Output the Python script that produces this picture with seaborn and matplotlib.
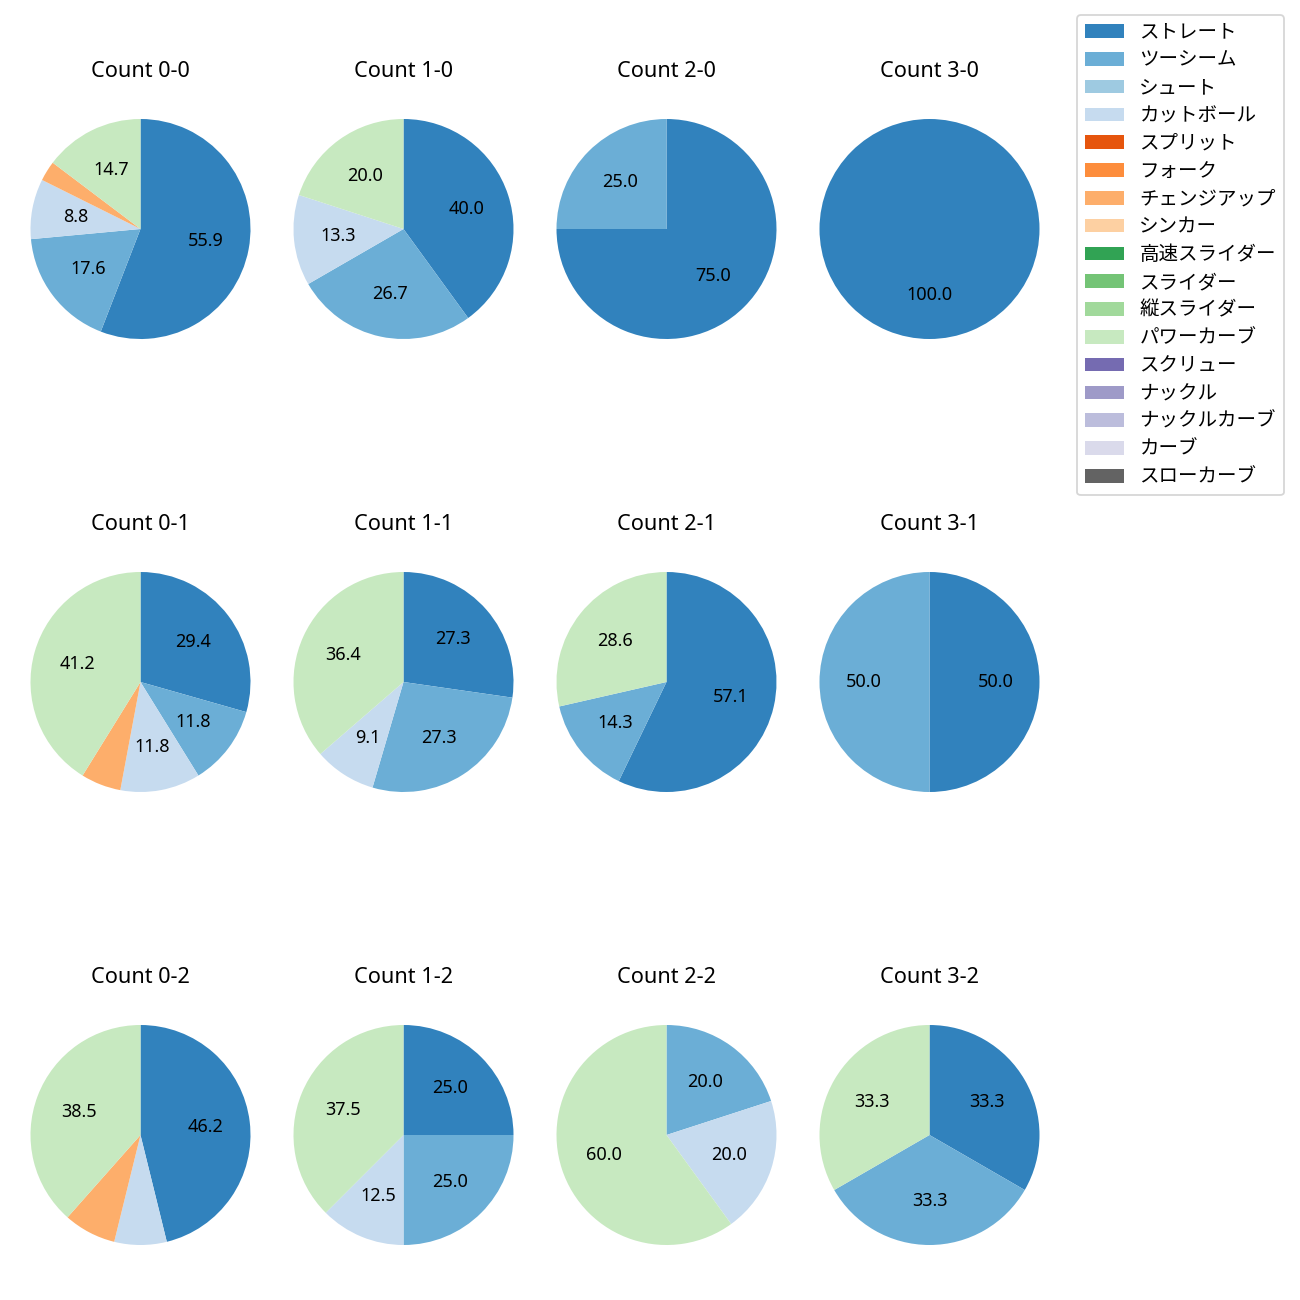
import matplotlib
matplotlib.use('Agg')
import matplotlib.pyplot as plt
import seaborn as sns
from matplotlib.patches import Patch

sns.set_style('white')
plt.rcParams['font.family'] = ['Noto Sans', 'Noto Sans CJK JP', 'DejaVu Sans']
plt.rcParams['text.color'] = 'black'

pitch_types = ['ストレート', 'ツーシーム', 'シュート', 'カットボール', 'スプリット', 'フォーク',
               'チェンジアップ', 'シンカー', '高速スライダー', 'スライダー', '縦スライダー',
               'パワーカーブ', 'スクリュー', 'ナックル', 'ナックルカーブ', 'カーブ', 'スローカーブ']

count_labels = ['0-0', '1-0', '2-0', '3-0',
                '0-1', '1-1', '2-1', '3-1',
                '0-2', '1-2', '2-2', '3-2']

# pitch counts per ball-strike count, in pitch_types order
c_0_0 = [19, 6, 0, 3, 0, 0, 1, 0, 0, 0, 0, 5, 0, 0, 0, 0, 0]
c_1_0 = [6, 4, 0, 2, 0, 0, 0, 0, 0, 0, 0, 3, 0, 0, 0, 0, 0]
c_2_0 = [3, 1, 0, 0, 0, 0, 0, 0, 0, 0, 0, 0, 0, 0, 0, 0, 0]
c_3_0 = [1, 0, 0, 0, 0, 0, 0, 0, 0, 0, 0, 0, 0, 0, 0, 0, 0]
c_0_1 = [5, 2, 0, 2, 0, 0, 1, 0, 0, 0, 0, 7, 0, 0, 0, 0, 0]
c_1_1 = [3, 3, 0, 1, 0, 0, 0, 0, 0, 0, 0, 4, 0, 0, 0, 0, 0]
c_2_1 = [4, 1, 0, 0, 0, 0, 0, 0, 0, 0, 0, 2, 0, 0, 0, 0, 0]
c_3_1 = [1, 1, 0, 0, 0, 0, 0, 0, 0, 0, 0, 0, 0, 0, 0, 0, 0]
c_0_2 = [6, 0, 0, 1, 0, 0, 1, 0, 0, 0, 0, 5, 0, 0, 0, 0, 0]
c_1_2 = [2, 2, 0, 1, 0, 0, 0, 0, 0, 0, 0, 3, 0, 0, 0, 0, 0]
c_2_2 = [0, 1, 0, 1, 0, 0, 0, 0, 0, 0, 0, 3, 0, 0, 0, 0, 0]
c_3_2 = [1, 1, 0, 0, 0, 0, 0, 0, 0, 0, 0, 1, 0, 0, 0, 0, 0]

all_counts = [c_0_0, c_1_0, c_2_0, c_3_0,
              c_0_1, c_1_1, c_2_1, c_3_1,
              c_0_2, c_1_2, c_2_2, c_3_2]

colors = sns.color_palette('tab20c', 20)[:17]

W = H = 1300
fig = plt.figure(figsize=(10, 10), dpi=130)

radius_px = 110
size_px = radius_px * 2.5
cx0, cy0 = 140.5, 229
dx, dy = 263, 453


def fmt(p):
    return f'{p:.1f}' if p >= 8 else ''


for i, (lab, vals) in enumerate(zip(count_labels, all_counts)):
    r, c = divmod(i, 4)
    cx = cx0 + c * dx
    cy = cy0 + r * dy
    ax = fig.add_axes([(cx - size_px / 2) / W, (H - cy - size_px / 2) / H, size_px / W, size_px / H])
    v = [x for x in vals if x > 0]
    col = [colors[k] for k, x in enumerate(vals) if x > 0]
    ax.pie(v, colors=col, startangle=90, counterclock=False, autopct=fmt,
           wedgeprops={'linewidth': 0}, textprops={'fontsize': 10, 'color': 'black'})
    ax.set_title(f'Count {lab}', fontsize=12, color='black', pad=8)

handles = [Patch(facecolor=colors[k], edgecolor='none', label=pitch_types[k]) for k in range(17)]
fig.legend(handles=handles, loc='upper left', bbox_to_anchor=(1077 / W, 1 - 15 / H),
           borderaxespad=0, fontsize=10.8, labelspacing=0.4)

fig.savefig('out.png', dpi=130)
